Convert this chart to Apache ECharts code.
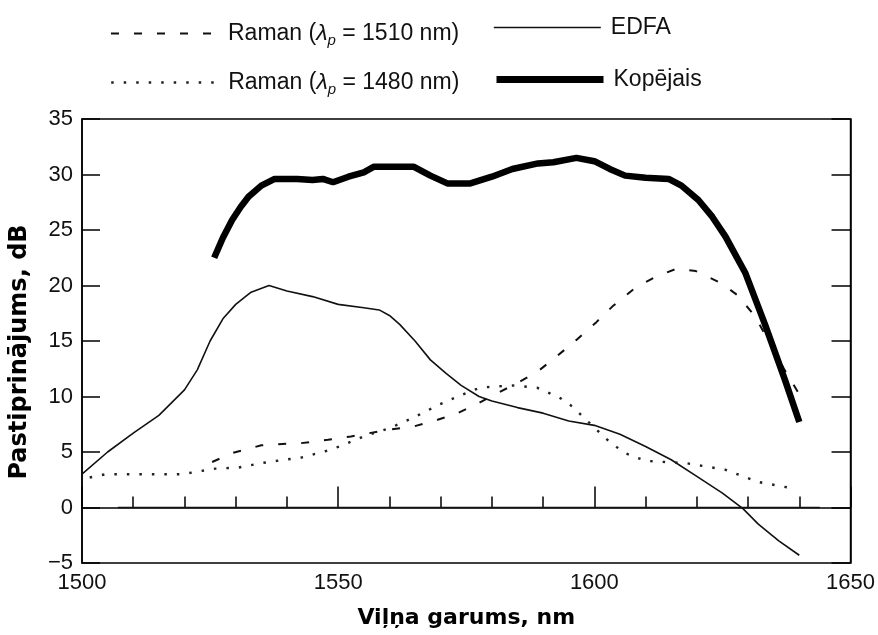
<!DOCTYPE html>
<html>
<head>
<meta charset="utf-8">
<title>Pastiprinājums</title>
<script src="https://cdn.jsdelivr.net/npm/echarts@6/dist/echarts.min.js"></script>
<style>
  html, body { margin: 0; padding: 0; background: #fff; }
  #main { width: 878px; height: 635px; }
</style>
</head>
<body>
<div id="main"></div>
<script>
// nolasītie dati (viļņa garums, nm -> pastiprinājums, dB)
var edfaX = [1500, 1505, 1510, 1515, 1520, 1522.5, 1525, 1527.5, 1530, 1533, 1536.5, 1540, 1545, 1550, 1555, 1558, 1560, 1562, 1565, 1568, 1571, 1574, 1577.5, 1580, 1585, 1590, 1595, 1600, 1605, 1610, 1615, 1620, 1625, 1629, 1632, 1636, 1640];
var edfaY = [3.0, 5.0, 6.7, 8.3, 10.6, 12.4, 15.0, 17.0, 18.3, 19.4, 20.0, 19.5, 19.0, 18.3, 18.0, 17.8, 17.3, 16.5, 15.0, 13.3, 12.1, 11.0, 10.0, 9.6, 9.0, 8.5, 7.8, 7.4, 6.6, 5.5, 4.3, 2.8, 1.3, -0.1, -1.5, -3.0, -4.3];

var kopX = [1525.8, 1527.5, 1529.3, 1531, 1532.5, 1535, 1537.6, 1542, 1545, 1547, 1549, 1552, 1555, 1557, 1564.7, 1568, 1571.3, 1575.8, 1580, 1584, 1589, 1592, 1596.5, 1600, 1603, 1606, 1610, 1614.5, 1617, 1620.3, 1623, 1625.6, 1629.5, 1633.3, 1637.2, 1640];
var kopY = [22.5, 24.3, 25.9, 27.1, 28.0, 29.0, 29.6, 29.6, 29.5, 29.6, 29.3, 29.8, 30.2, 30.7, 30.7, 29.9, 29.2, 29.2, 29.8, 30.5, 31.0, 31.1, 31.5, 31.2, 30.5, 29.9, 29.7, 29.6, 29.0, 27.7, 26.2, 24.4, 21.1, 16.5, 11.5, 7.7];

var r1510X = [1525.4, 1529.3, 1535, 1538, 1542.8, 1548, 1552.5, 1559.7, 1564.7, 1569.4, 1573.3, 1577, 1580.2, 1584.9, 1588.8, 1592.6, 1596.5, 1600.4, 1603.5, 1608, 1612, 1616, 1619.8, 1624.8, 1628, 1631.4, 1634, 1637, 1640];
var r1510Y = [4.1, 4.9, 5.6, 5.7, 5.8, 6.1, 6.4, 7.0, 7.3, 7.9, 8.5, 9.3, 10.1, 11.2, 12.2, 13.6, 15.1, 16.7, 18.1, 19.8, 20.8, 21.5, 21.3, 20.2, 19.1, 17.2, 15.0, 12.5, 10.2];

var r1480X = [1501.5, 1504.7, 1510, 1515, 1519.6, 1523.4, 1526, 1530.6, 1535, 1539.5, 1542.8, 1548.6, 1555, 1560.3, 1564.7, 1569.4, 1573.3, 1577.7, 1584, 1588.8, 1593.2, 1595.7, 1598.4, 1603, 1606, 1610, 1617.8, 1625.6, 1632, 1637.8];
var r1480Y = [2.7, 3.0, 3.0, 3.0, 3.0, 3.3, 3.5, 3.6, 4.0, 4.3, 4.5, 5.2, 6.4, 7.2, 8.1, 9.2, 10.0, 10.8, 11.0, 10.8, 9.9, 9.1, 7.9, 5.9, 4.9, 4.2, 4.0, 3.4, 2.3, 1.8];

var zeroX = [1507, 1644];
var zeroY = [0, 0];

var names = ['Raman (λp = 1510 nm)', 'EDFA', 'Raman (λp = 1480 nm)', 'Kopējais'];
var yTicks = [-5, 0, 5, 10, 15, 20, 25, 30, 35];

function pairs(xs, ys) {
    return xs.map(function (x, i) { return [x, ys[i]]; });
}

var richText = {
    r: { fontSize: 23, lineHeight: 30, fontFamily: 'Liberation Sans', color: '#111' },
    l: { fontSize: 23, lineHeight: 30, fontFamily: 'Liberation Sans', fontStyle: 'italic', color: '#111' },
    s: { fontSize: 15, lineHeight: 15, fontFamily: 'Liberation Sans', fontStyle: 'italic', verticalAlign: 'bottom', color: '#111' }
};

function legendLabel(name) {
    if (name.indexOf('Raman') === 0) {
        var nm = name.indexOf('1510') > 0 ? '1510' : '1480';
        return '{r|Raman (}{l|λ}{s|p}{r| = ' + nm + ' nm)}';
    }
    return '{r|' + name + '}';
}

function makeLegend(name, left, top, lw) {
    return {
        data: [name],
        left: left,
        top: top,
        padding: 0,
        itemWidth: 107,
        itemHeight: 14,
        selectedMode: false,
        formatter: legendLabel,
        itemStyle: { opacity: 0 },
        lineStyle: { width: lw },
        textStyle: { padding: [0, 0, 0, 5], rich: richText }
    };
}

var main = echarts.init(document.getElementById('main'));

var option = {
    backgroundColor: '#fff',
    animation: false,
    legend: [
        makeLegend(names[0], 110, 22, 2),
        makeLegend(names[1], 493, 16, 1.6),
        makeLegend(names[2], 110, 71, 2.4),
        makeLegend(names[3], 493, 68, 7)
    ],
    grid: {
        left: 79, right: 25, top: 119, bottom: 72,
        show: true, borderColor: '#000', borderWidth: 1.5
    },
    xAxis: {
        type: 'value',
        min: 1500, max: 1650, interval: 50,
        name: 'Viļņa garums, nm',
        nameLocation: 'middle',
        nameGap: 44,
        nameTextStyle: { fontFamily: 'DejaVu Sans', fontWeight: 'bold', fontSize: 22, color: '#000' },
        axisLine: { lineStyle: { color: '#000', width: 1.5 } },
        axisTick: { inside: true, length: 21, lineStyle: { color: '#000', width: 1.5 } },
        minorTick: { show: true, splitNumber: 5, length: 11, lineStyle: { color: '#000', width: 1.5 } },
        splitLine: { show: false },
        axisLabel: {
            fontFamily: 'Liberation Sans', fontSize: 22, color: '#111', margin: 9,
            formatter: function (v) { return String(v); }
        }
    },
    yAxis: [{
        type: 'value',
        min: yTicks[0], max: yTicks[yTicks.length - 1], interval: 5,
        name: 'Pastiprinājums, dB',
        nameLocation: 'middle',
        nameGap: 50,
        nameTextStyle: { fontFamily: 'DejaVu Sans', fontWeight: 'bold', fontSize: 24, color: '#000', padding: [0, 22, 0, 0] },
        axisLine: { lineStyle: { color: '#000', width: 1.5 } },
        axisTick: { inside: true, length: 18, lineStyle: { color: '#000', width: 1.5 } },
        splitLine: { show: false },
        axisLabel: {
            fontFamily: 'Liberation Sans', fontSize: 22, color: '#111', margin: 9,
            formatter: function (v) { return String(v).replace('-', '\u2212'); }
        }
    }, {
        type: 'value',
        position: 'right',
        min: yTicks[0], max: yTicks[yTicks.length - 1], interval: 5,
        axisLine: { show: true, lineStyle: { color: '#000', width: 1.5 } },
        axisTick: { inside: true, length: 19, lineStyle: { color: '#000', width: 1.5 } },
        axisLabel: { show: false },
        splitLine: { show: false }
    }],
    series: [
        {
            name: names[0], type: 'line', symbol: 'none',
            data: pairs(r1510X, r1510Y),
            itemStyle: { color: '#111' },
            lineStyle: { color: '#111', width: 2, type: [8, 15] }
        },
        {
            name: names[1], type: 'line', symbol: 'none',
            data: pairs(edfaX, edfaY),
            itemStyle: { color: '#111' },
            lineStyle: { color: '#111', width: 1.6 }
        },
        {
            name: names[2], type: 'line', symbol: 'none',
            data: pairs(r1480X, r1480Y),
            itemStyle: { color: '#222' },
            lineStyle: { color: '#222', width: 2.4, type: [2.5, 10] }
        },
        {
            name: names[3], type: 'line', symbol: 'none',
            data: pairs(kopX, kopY),
            itemStyle: { color: '#000' },
            lineStyle: { color: '#000', width: 6.5 }
        },
        {
            name: 'nulle', type: 'line', symbol: 'none',
            data: pairs(zeroX, zeroY),
            itemStyle: { color: '#111' },
            lineStyle: { color: '#111', width: 1.5 }
        }
    ]
};

main.setOption(option);
</script>
</body>
</html>
